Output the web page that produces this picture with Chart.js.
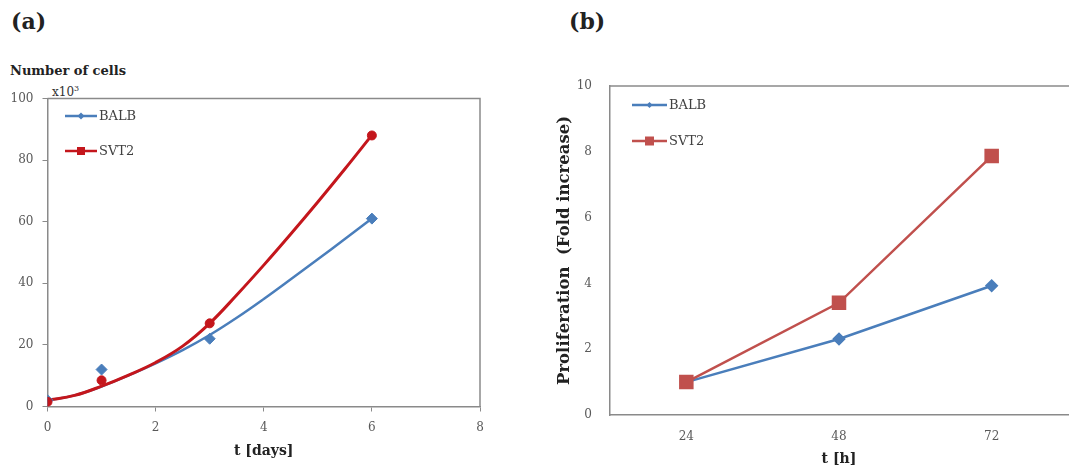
<!DOCTYPE html>
<html>
<head>
<meta charset="utf-8">
<script src="https://cdn.jsdelivr.net/npm/chart.js@4/dist/chart.umd.min.js"></script>
<style>
  html, body { margin: 0; padding: 0; background: #fff; overflow: hidden; }
  body { position: relative; width: 1069px; height: 470px; font-family: "DejaVu Serif", serif; }
  canvas { position: absolute; top: 0; }
  #growth { left: 0; }
  #fold { left: 540px; }
  .panel { position: absolute; font-weight: bold; font-size: 22px; line-height: 1; color: #222; }
  .ytitle { position: absolute; font-weight: bold; font-size: 13px; line-height: 1; color: #222; }
  .unit { position: absolute; font-size: 12px; line-height: 1; color: #333; }
  .unit sup { font-size: 8px; vertical-align: 5px; }
</style>
</head>
<body>
<div class="panel" style="left:11px; top:10px;">(a)</div>
<div class="panel" style="left:569px; top:10px;">(b)</div>
<div class="ytitle" style="left:10px; top:64px;">Number of cells</div>
<div class="unit" style="left:52px; top:85px;">x10<sup>3</sup></div>
<canvas id="growth" width="500" height="470"></canvas>
<canvas id="fold" width="529" height="470"></canvas>
<script>
document.addEventListener('DOMContentLoaded', () => {
    const seriesNames = ['BALB', 'SVT2'];

    // (a) cell counts, x10^3, per day
    const days = [0, 1, 3, 6];
    const balbCells = [2, 12, 22, 61];
    const svt2Cells = [1.5, 8.5, 27, 88];

    // (a) trend curves, sampled every half day
    const trendDays = [0, 0.5, 1, 1.5, 2, 2.5, 3, 3.5, 4, 4.5, 5, 5.5, 6];
    const balbTrend = [2.0, 3.6, 6.5, 10.1, 14.0, 18.3, 23.2, 28.8, 34.9, 41.3, 47.8, 54.4, 61.0];
    const svt2Trend = [2.0, 3.6, 6.6, 10.2, 14.3, 19.6, 27.0, 36.2, 45.9, 56.0, 66.4, 77.1, 88.1];

    // (b) fold increase per time point
    const hours = ['24', '48', '72'];
    const balbFold = [1.0, 2.31, 3.93];
    const svt2Fold = [1.0, 3.41, 7.87];

    const blue = '#4A7EBB';
    const darkRed = '#C4161C';
    const red = '#C0504D';
    const axisColor = '#8a8a8a';
    const tickFont = { family: "'DejaVu Serif', serif", size: 12 };
    const titleFont = { family: "'DejaVu Serif', serif", size: 14, weight: 'bold' };

    const toPoints = (xs, ys) => xs.map((x, i) => ({ x: x, y: ys[i] }));

    function drawMarker(ctx, style, x, y, r, color) {
        ctx.fillStyle = color;
        ctx.beginPath();
        if (style === 'rectRot') {
            ctx.moveTo(x, y - r);
            ctx.lineTo(x + r, y);
            ctx.lineTo(x, y + r);
            ctx.lineTo(x - r, y);
            ctx.closePath();
        } else {
            ctx.rect(x - r, y - r, 2 * r, 2 * r);
        }
        ctx.fill();
    }

    // line + marker legend in the top left corner of the plot
    const seriesLegend = {
        id: 'seriesLegend',
        afterDatasetsDraw(chart, args, opts) {
            const { ctx, chartArea } = chart;
            ctx.save();
            opts.entries.forEach((e, i) => {
                const y = chartArea.top + opts.top + i * opts.rowGap;
                const x0 = chartArea.left + opts.left;
                const x1 = x0 + opts.lineLength;
                ctx.strokeStyle = e.color;
                ctx.lineWidth = 2.5;
                ctx.beginPath();
                ctx.moveTo(x0, y);
                ctx.lineTo(x1, y);
                ctx.stroke();
                drawMarker(ctx, e.style, (x0 + x1) / 2, y, e.size, e.color);
                ctx.fillStyle = '#404040';
                ctx.font = "13px 'DejaVu Serif', serif";
                ctx.textBaseline = 'middle';
                ctx.fillText(e.label, x1 + 2, y + 1);
            });
            ctx.restore();
        }
    };

    // top / right edges of the plot box
    const plotFrame = {
        id: 'plotFrame',
        beforeDatasetsDraw(chart, args, opts) {
            const { ctx, chartArea } = chart;
            ctx.save();
            ctx.strokeStyle = axisColor;
            ctx.lineWidth = 1.5;
            ctx.beginPath();
            ctx.moveTo(chartArea.left, chartArea.top);
            if (opts.right) {
                ctx.lineTo(chartArea.right, chartArea.top);
                ctx.lineTo(chartArea.right, chartArea.bottom);
            } else {
                ctx.lineTo(chart.width, chartArea.top);
            }
            ctx.stroke();
            ctx.restore();
        }
    };

    // Chart (a): cell counts with trend curves
    new Chart(document.getElementById('growth'), {
        type: 'scatter',
        data: {
            datasets: [
                {
                    label: seriesNames[1],
                    data: toPoints(days, svt2Cells),
                    pointStyle: 'circle',
                    pointRadius: 4.5,
                    backgroundColor: darkRed,
                    borderColor: darkRed
                },
                {
                    label: seriesNames[0],
                    data: toPoints(days, balbCells),
                    pointStyle: 'rectRot',
                    pointRadius: 5.5,
                    backgroundColor: blue,
                    borderColor: blue
                },
                {
                    label: seriesNames[1] + ' trend',
                    data: toPoints(trendDays, svt2Trend),
                    showLine: true,
                    tension: 0.4,
                    borderColor: darkRed,
                    borderWidth: 3,
                    pointRadius: 0
                },
                {
                    label: seriesNames[0] + ' trend',
                    data: toPoints(trendDays, balbTrend),
                    showLine: true,
                    tension: 0.4,
                    borderColor: blue,
                    borderWidth: 2.5,
                    pointRadius: 0
                }
            ]
        },
        options: {
            responsive: false,
            animation: false,
            layout: { autoPadding: false, padding: { left: 0, top: 98.5, right: 20, bottom: 0 } },
            plugins: {
                legend: { display: false },
                tooltip: { enabled: false },
                plotFrame: { right: true },
                seriesLegend: {
                    left: 17.5, top: 17.5, rowGap: 35, lineLength: 32,
                    entries: [
                        { label: seriesNames[0], color: blue, style: 'rectRot', size: 3.5 },
                        { label: seriesNames[1], color: darkRed, style: 'rect', size: 4 }
                    ]
                }
            },
            scales: {
                x: {
                    type: 'linear',
                    min: 0, max: 8,
                    afterFit: (scale) => { scale.height = 63.5; },
                    ticks: { stepSize: 2, color: '#595959', font: tickFont, padding: 9, maxRotation: 0 },
                    grid: { drawOnChartArea: false, drawTicks: true, tickLength: 5, color: axisColor },
                    border: { color: axisColor, width: 1.5 },
                    title: { display: true, text: 't [days]', color: '#222', font: titleFont, padding: { top: 0, bottom: 10 } }
                },
                y: {
                    min: 0, max: 100,
                    afterFit: (scale) => { scale.width = 47.5; },
                    ticks: { stepSize: 20, color: '#595959', font: tickFont, padding: 9 },
                    grid: { drawOnChartArea: false, drawTicks: true, tickLength: 5, color: axisColor },
                    border: { color: axisColor, width: 1.5 }
                }
            }
        },
        plugins: [plotFrame, seriesLegend]
    });

    // Chart (b): fold increase
    new Chart(document.getElementById('fold'), {
        type: 'line',
        data: {
            labels: hours,
            datasets: [
                {
                    label: seriesNames[1],
                    data: svt2Fold,
                    borderColor: red,
                    backgroundColor: red,
                    borderWidth: 2.5,
                    pointStyle: 'rect',
                    pointRadius: 8.5,
                    tension: 0
                },
                {
                    label: seriesNames[0],
                    data: balbFold,
                    borderColor: blue,
                    backgroundColor: blue,
                    borderWidth: 2.5,
                    pointStyle: 'rectRot',
                    pointRadius: 5,
                    tension: 0
                }
            ]
        },
        options: {
            responsive: false,
            animation: false,
            layout: { autoPadding: false, padding: { left: 0, top: 86, right: 1, bottom: 0 } },
            plugins: {
                legend: { display: false },
                tooltip: { enabled: false },
                plotFrame: { right: false },
                seriesLegend: {
                    left: 22, top: 19, rowGap: 36, lineLength: 35,
                    entries: [
                        { label: seriesNames[0], color: blue, style: 'rectRot', size: 3 },
                        { label: seriesNames[1], color: red, style: 'rect', size: 4.5 }
                    ]
                }
            },
            scales: {
                x: {
                    offset: true,
                    afterFit: (scale) => { scale.height = 55; },
                    ticks: { color: '#595959', font: tickFont, padding: 15 },
                    grid: { display: false, drawTicks: false },
                    border: { color: axisColor, width: 1.5 },
                    title: { display: true, text: 't [h]', color: '#222', font: titleFont, padding: { top: 0, bottom: 2 } }
                },
                y: {
                    min: 0, max: 10,
                    afterFit: (scale) => { scale.width = 70; },
                    ticks: { stepSize: 2, color: '#595959', font: tickFont, padding: 18 },
                    grid: { display: false, drawTicks: false },
                    border: { color: axisColor, width: 1.5 },
                    title: {
                        display: true, text: 'Proliferation  (Fold increase)', color: '#222',
                        font: { family: "'DejaVu Serif', serif", size: 16.5, weight: 'bold' },
                        padding: { top: 15, bottom: 0 }
                    }
                }
            }
        },
        plugins: [plotFrame, seriesLegend]
    });
});
</script>
</body>
</html>
